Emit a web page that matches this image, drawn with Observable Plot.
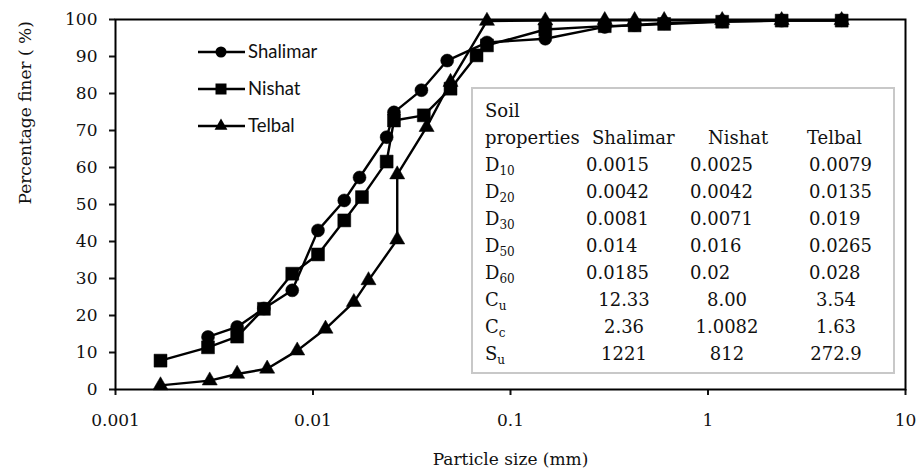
<!DOCTYPE html>
<html>
<head>
<meta charset="utf-8">
<script src="https://cdn.jsdelivr.net/npm/d3@7"></script>
<script src="https://cdn.jsdelivr.net/npm/@observablehq/plot@0.6"></script>
<style>
  html, body { margin: 0; padding: 0; background: #fff; }
  #chart { position: relative; width: 921px; height: 471px; }
</style>
</head>
<body>
<div id="chart"></div>
<script>
// ---- data ----
const seriesNames = ["Shalimar", "Nishat", "Telbal"];

const shalimarSize  = [0.00294, 0.00413, 0.00564, 0.00785, 0.0106, 0.0144, 0.0172, 0.0236, 0.0257, 0.0354, 0.0478, 0.076, 0.15, 0.3, 0.425, 0.6, 1.18, 2.36, 4.75];
const shalimarFiner = [14.2, 16.9, 21.9, 26.8, 43.0, 51.1, 57.3, 68.2, 74.9, 80.9, 88.9, 93.8, 94.8, 98.0, 98.5, 99.0, 99.5, 99.7, 99.8];

const nishatSize  = [0.00169, 0.00294, 0.00413, 0.00564, 0.00785, 0.0106, 0.0144, 0.0177, 0.0236, 0.0257, 0.0364, 0.0497, 0.0673, 0.076, 0.15, 0.3, 0.425, 0.6, 1.18, 2.36, 4.75];
const nishatFiner = [7.8, 11.4, 14.3, 21.8, 31.3, 36.5, 45.7, 52.0, 61.6, 72.7, 74.1, 81.3, 90.3, 93.0, 97.3, 98.2, 98.4, 98.8, 99.4, 99.7, 99.7];

const telbalSize  = [0.00169, 0.0030, 0.00413, 0.00586, 0.00832, 0.01157, 0.0161, 0.0191, 0.0267, 0.0267, 0.0376, 0.0497, 0.076, 0.15, 0.3, 0.425, 0.6, 1.18, 2.36, 4.75];
const telbalFiner = [1.1, 2.4, 4.2, 5.6, 10.5, 16.4, 23.6, 29.5, 40.5, 58.1, 70.9, 83.1, 99.6, 99.7, 99.8, 99.8, 99.8, 99.8, 99.8, 99.8];

const xTicks = [0.001, 0.01, 0.1, 1, 10];
const xTickLabels = ["0.001", "0.01", "0.1", "1", "10"];
const yTicks = [0, 10, 20, 30, 40, 50, 60, 70, 80, 90, 100];

const xTitle = "Particle size (mm)";
const yTitle = "Percentage finer ( %)";

// table
const tableTitle1 = "Soil";
const tableTitle2 = "properties";
const tableHeaders = ["Shalimar", "Nishat", "Telbal"];
const tableLabels = [["D", "10"], ["D", "20"], ["D", "30"], ["D", "50"], ["D", "60"], ["C", "u"], ["C", "c"], ["S", "u"]];
const tableShalimar = ["0.0015", "0.0042", "0.0081", "0.014", "0.0185", "12.33", "2.36", "1221"];
const tableNishat   = ["0.0025", "0.0042", "0.0071", "0.016", "0.02", "8.00", "1.0082", "812"];
const tableTelbal   = ["0.0079", "0.0135", "0.019", "0.0265", "0.028", "3.54", "1.63", "272.9"];

// ---- build tidy table for Plot ----
const symbols = {Shalimar: "circle", Nishat: "square", Telbal: "triangle"};
const radii = {Shalimar: 6.5, Nishat: 7.3, Telbal: 5.6};
const rows = [];
[[shalimarSize, shalimarFiner, "Shalimar"], [nishatSize, nishatFiner, "Nishat"], [telbalSize, telbalFiner, "Telbal"]]
  .forEach(([xs, ys, name]) => xs.forEach((x, i) => rows.push({series: name, size: x, finer: ys[i]})));

const serif = "'DejaVu Serif', serif";

const plot = Plot.plot({
  width: 921,
  height: 471,
  marginLeft: 115,
  marginRight: 16,
  marginTop: 19,
  marginBottom: 82,
  style: {fontFamily: serif, fontSize: "17px", color: "#111", background: "white"},
  x: {type: "log", domain: [0.001, 10], ticks: xTicks, tickFormat: d => xTickLabels[xTicks.indexOf(d)], label: null, tickSize: 6, tickPadding: 18},
  y: {domain: [0, 100], ticks: yTicks, label: null, tickSize: 6, tickPadding: 12},
  marks: [
    Plot.line(rows, {x: "size", y: "finer", z: "series", stroke: "black", strokeWidth: 2.4}),
    ...seriesNames.map(name => Plot.dot(rows.filter(d => d.series === name), {
      x: "size", y: "finer", symbol: () => symbols[name], r: radii[name], fill: "black", stroke: "black", strokeWidth: 0.5
    })),
    Plot.frame({stroke: "black", strokeWidth: 2}),
    Plot.text([xTitle], {text: d => d, frameAnchor: "bottom", dy: 75, fontSize: 17}),
    Plot.text([yTitle], {text: d => d, frameAnchor: "left", dx: -90, rotate: -90, fontSize: 17})
  ]
});

document.getElementById("chart").appendChild(plot);

const svg = d3.select(plot);
svg.selectAll("g[aria-label='x-axis tick'] path, g[aria-label='y-axis tick'] path").attr("stroke-width", 2);

// ---- legend ----
const legend = svg.append("g").attr("font-family", "Lato, 'Open Sans', sans-serif").attr("font-size", 18.5).attr("text-anchor", "start");
seriesNames.forEach((name, i) => {
  const cy = 52 + i * 37;
  legend.append("line").attr("x1", 198).attr("x2", 245).attr("y1", cy).attr("y2", cy).attr("stroke", "black").attr("stroke-width", 2.4);
  const sym = {circle: d3.symbolCircle, square: d3.symbolSquare, triangle: d3.symbolTriangle}[symbols[name]];
  const r = radii[name] * 0.85;
  legend.append("path").attr("d", d3.symbol(sym, Math.PI * r * r)()).attr("transform", `translate(221,${cy})`).attr("fill", "black");
  legend.append("text").attr("x", 248).attr("y", cy).attr("dy", "0.35em").attr("fill", "#111").attr("text-anchor", "start").text(name);
});

// ---- properties table ----
const tbl = svg.append("g").attr("font-family", serif).attr("font-size", 18).attr("fill", "#111").attr("text-anchor", "start");
tbl.append("rect").attr("x", 472).attr("y", 88).attr("width", 422).attr("height", 285)
  .attr("fill", "white").attr("stroke", "#c8c8c8").attr("stroke-width", 2);
tbl.append("text").attr("x", 485).attr("y", 117).attr("text-anchor", "start").text(tableTitle1);
tbl.append("text").attr("x", 485).attr("y", 144).attr("text-anchor", "start").text(tableTitle2);
const headerX = [592, 708, 807];
tableHeaders.forEach((t, j) => tbl.append("text").attr("x", headerX[j]).attr("y", 144).attr("text-anchor", "start").text(t));

const colStart = [586, 690, 809];
const colMid = [624, 727, 836];
tableLabels.forEach(([main, sub], i) => {
  const y = 171 + i * 27;
  const t = tbl.append("text").attr("x", 485).attr("y", y).attr("text-anchor", "start");
  t.append("tspan").text(main);
  t.append("tspan").attr("font-size", 12).attr("dy", 4).text(sub);
  [tableShalimar, tableNishat, tableTelbal].forEach((col, j) => {
    const numeric = i < 5;
    tbl.append("text")
      .attr("x", numeric ? colStart[j] : colMid[j])
      .attr("y", y)
      .attr("text-anchor", numeric ? "start" : "middle")
      .text(col[i]);
  });
});
</script>
</body>
</html>
